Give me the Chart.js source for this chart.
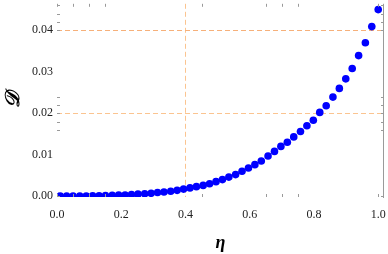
<!DOCTYPE html>
<html>
<head>
<meta charset="utf-8">
<script src="https://cdn.jsdelivr.net/npm/chart.js@4/dist/chart.umd.min.js"></script>
<style>
  body { margin: 0; background: #fff; }
  #wrap { width: 388px; height: 254px; }
</style>
</head>
<body>
<div id="wrap"><canvas id="myChart" width="388" height="254"></canvas></div>
<script>
// eta values (x) and D values (y)
const etaValues = [0.010, 0.030, 0.050, 0.071, 0.091, 0.111, 0.131, 0.151, 0.172, 0.192,
    0.212, 0.232, 0.252, 0.273, 0.293, 0.313, 0.333, 0.354, 0.374, 0.394,
    0.414, 0.434, 0.455, 0.475, 0.495, 0.515, 0.535, 0.556, 0.576, 0.596,
    0.616, 0.636, 0.657, 0.677, 0.697, 0.717, 0.737, 0.758, 0.778, 0.798,
    0.818, 0.838, 0.859, 0.879, 0.899, 0.919, 0.939, 0.960, 0.980, 1.000];
const dValues = [0.0000, 0.0000, 0.0000, 0.00002, 0.00004, 0.00006, 0.00009, 0.00013, 0.0002, 0.00025,
    0.0003, 0.0004, 0.0005, 0.0006, 0.0007, 0.0009, 0.0010, 0.0012, 0.0014, 0.0017,
    0.0020, 0.0023, 0.0026, 0.0030, 0.0035, 0.0040, 0.0046, 0.0052, 0.0060, 0.0068,
    0.0076, 0.0085, 0.0097, 0.0108, 0.0120, 0.0130, 0.0143, 0.0156, 0.0170, 0.0183,
    0.0202, 0.0218, 0.0239, 0.0260, 0.0283, 0.0308, 0.0339, 0.0370, 0.0409, 0.0450];

const xTickValues = [0, 0.2, 0.4, 0.6, 0.8, 1.0];
const yTickValues = [0, 0.01, 0.02, 0.03, 0.04];
// dashed grid lines
const xGridLines = [0.4];
const yGridLines = [0.02, 0.04];
// small frame ticks that show in the picture
const xFrameTicks = [0, 0.05, 0.1, 0.15, 0.45, 0.65, 0.7, 0.75, 1.0];
const yFrameTicks = [0, 0.016, 0.018, 0.02, 0.022, 0.024, 0.04, 0.042, 0.044, 0.046];

let points = [];
for (let i = 0; i < etaValues.length; i++) {
    points.push({ x: etaValues[i], y: dValues[i] });
}

// dashed grid lines, drawn under the points
const gridLines = {
    id: "gridLines",
    beforeDatasetsDraw(chart) {
        const ctx = chart.ctx;
        const a = chart.chartArea;
        const xs = chart.scales.x;
        const ys = chart.scales.y;
        ctx.save();
        ctx.lineWidth = 1;
        ctx.setLineDash([5, 3]);
        ctx.strokeStyle = "#fbc490";
        for (const v of xGridLines) {
            const px = Math.round(xs.getPixelForValue(v)) + 0.5;
            ctx.beginPath();
            ctx.moveTo(px, a.top);
            ctx.lineTo(px, a.bottom);
            ctx.stroke();
        }
        for (const v of yGridLines) {
            const py = Math.round(ys.getPixelForValue(v)) + 0.5;
            ctx.strokeStyle = v === 0.04 ? "#f6b07a" : "#fbc490";
            ctx.beginPath();
            ctx.moveTo(a.left, py);
            ctx.lineTo(a.right, py);
            ctx.stroke();
        }
        ctx.restore();
    },
};

const frame = {
    id: "frame",
    afterDraw(chart) {
        const ctx = chart.ctx;
        const a = chart.chartArea;
        const xs = chart.scales.x;
        const ys = chart.scales.y;
        ctx.save();
        ctx.strokeStyle = "#9a9a9a";
        ctx.lineWidth = 1;
        ctx.beginPath();
        ctx.moveTo(a.right - 0.5, a.top);
        ctx.lineTo(a.right - 0.5, a.bottom + 1);
        for (const v of xFrameTicks) {
            const px = Math.round(xs.getPixelForValue(v)) + 0.5;
            ctx.moveTo(px, a.bottom);
            ctx.lineTo(px, a.bottom - 3);
            ctx.moveTo(px, a.top);
            ctx.lineTo(px, a.top + 3);
        }
        for (const v of yFrameTicks) {
            const py = Math.round(ys.getPixelForValue(v)) + 0.5;
            ctx.moveTo(a.left, py);
            ctx.lineTo(a.left + 3, py);
            ctx.moveTo(a.right, py);
            ctx.lineTo(a.right - 3, py);
        }
        ctx.stroke();
        ctx.restore();
    },
};

const ctx = document.getElementById("myChart");
new Chart(ctx, {
    type: "scatter",
    data: {
        datasets: [
            {
                data: points,
                backgroundColor: "#0000ff",
                borderColor: "#0000ff",
                pointRadius: 3.8,
                pointHoverRadius: 3.8,
                borderWidth: 0,
            },
        ],
    },
    options: {
        responsive: false,
        animation: false,
        layout: { padding: { left: 0, right: 4, top: 0, bottom: 0 } },
        plugins: { legend: { display: false }, tooltip: { enabled: false } },
        scales: {
            x: {
                type: "linear",
                min: 0,
                max: 1.018,
                afterFit: (s) => {
                    s.height = 57;
                    s.paddingLeft = 0;
                    s.paddingRight = 0;
                },
                afterBuildTicks: (s) => { s.ticks = xTickValues.map((v) => ({ value: v })); },
                border: { display: false },
                grid: { display: false, drawTicks: false },
                ticks: {
                    padding: 11,
                    color: "#222",
                    font: { family: "Liberation Serif", size: 12 },
                    callback: (v) => v.toFixed(1),
                },
                title: {
                    display: true,
                    text: "η",
                    color: "#000",
                    padding: { top: 1, bottom: 0 },
                    font: { family: "Liberation Serif", size: 18, style: "italic", weight: "bold" },
                },
            },
            y: {
                type: "linear",
                min: -0.0002,
                max: 0.0464,
                afterFit: (s) => {
                    s.width = 57;
                    s.paddingTop = 0;
                    s.paddingBottom = 0;
                },
                afterBuildTicks: (s) => { s.ticks = yTickValues.map((v) => ({ value: v })); },
                border: { display: false },
                grid: { display: false, drawTicks: false },
                ticks: {
                    padding: 4,
                    color: "#222",
                    font: { family: "Liberation Serif", size: 12 },
                    callback: (v) => v.toFixed(2),
                },
                title: {
                    display: true,
                    text: "𝒟",
                    color: "#000",
                    padding: { top: 2, bottom: 0 },
                    font: { family: "DejaVu Serif", size: 20, style: "italic", weight: "bold" },
                },
            },
        },
    },
    plugins: [gridLines, frame],
});
</script>
</body>
</html>
